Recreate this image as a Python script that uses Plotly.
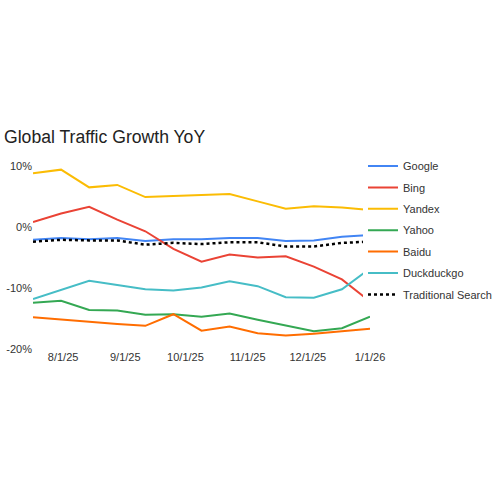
import pandas as pd
import plotly.graph_objects as go

# biweekly points (YoY growth, %)
dates = pd.date_range("2025-07-17", periods=13, freq="14D")

google = [-2.1, -1.8, -2.0, -1.8, -2.3, -2.0, -2.0, -1.8, -1.8, -2.3, -2.2, -1.6, -1.3]
bing = [0.8, 2.2, 3.3, 1.2, -0.7, -3.6, -5.7, -4.5, -5.0, -4.8, -6.5, -8.6, -12.2]
yandex = [8.8, 9.4, 6.5, 6.9, 4.9, 5.1, 5.2, 5.4, 4.2, 3.0, 3.4, 3.2, 2.8]
yahoo = [-12.4, -12.1, -13.6, -13.7, -14.4, -14.3, -14.7, -14.2, -15.2, -16.2, -17.1, -16.6, -14.7]
baidu = [-14.8, -15.2, -15.5, -15.9, -16.2, -14.3, -17.0, -16.3, -17.4, -17.8, -17.5, -17.1, -16.7]
duckduckgo = [-11.8, -10.3, -8.8, -9.5, -10.2, -10.4, -9.9, -8.9, -9.7, -11.5, -11.6, -10.2, -6.8]
traditional = [-2.4, -2.1, -2.2, -2.2, -2.9, -2.6, -2.8, -2.5, -2.5, -3.2, -3.2, -2.6, -2.4]

x_ticks = ["2025-08-01", "2025-09-01", "2025-10-01", "2025-11-01", "2025-12-01", "2026-01-01"]
x_tick_labels = ["8/1/25", "9/1/25", "10/1/25", "11/1/25", "12/1/25", "1/1/26"]
y_ticks = [10, 0, -10, -20]
y_tick_labels = ["10%", "0%", "-10%", "-20%"]

series = [
    ("Google", google, "#4285F4", "solid"),
    ("Bing", bing, "#EA4335", "solid"),
    ("Yandex", yandex, "#FBBC04", "solid"),
    ("Yahoo", yahoo, "#34A853", "solid"),
    ("Baidu", baidu, "#FF6D01", "solid"),
    ("Duckduckgo", duckduckgo, "#46BDC6", "solid"),
    ("Traditional Search", traditional, "#000000", "dot"),
]

fig = go.Figure()
for name, vals, color, dash in series:
    fig.add_trace(go.Scatter(
        x=dates, y=vals, name=name, mode="lines", legendgroup=name,
        line=dict(color=color, width=2.5 if dash == "dot" else 2, dash=dash),
    ))

fig.update_layout(
    width=500, height=500,
    # autoexpand off: the legend must not push the right margin
    margin=dict(l=33, r=130, t=166, b=151, autoexpand=False),
    paper_bgcolor="white", plot_bgcolor="white",
    font=dict(family="Arial", size=11, color="#333333"),
    title=dict(text="Global Traffic Growth YoY", x=0.008, xanchor="left",
               y=0.726, yanchor="middle", font=dict(size=17.6, color="#222222")),
    legend=dict(xref="container", yref="container", x=0.726, y=0.697,
                xanchor="left", yanchor="top",
                itemwidth=30, tracegroupgap=2.4, font=dict(size=11, color="#333333")),
    showlegend=True,
)
fig.update_xaxes(range=[dates[0], dates[-1]], tickvals=x_ticks, ticktext=x_tick_labels,
                 showgrid=False, zeroline=False, showline=False, ticks="", automargin=False)
fig.update_yaxes(range=[-20, 10], tickvals=y_ticks, ticktext=y_tick_labels,
                 showgrid=False, zeroline=False, showline=False, ticks="", automargin=False)

# drop the default page margin so the figure sits at the window's top-left corner
fig.write_html("out.html", config={"displayModeBar": False},
               post_script="document.body.style.margin='0px';")
